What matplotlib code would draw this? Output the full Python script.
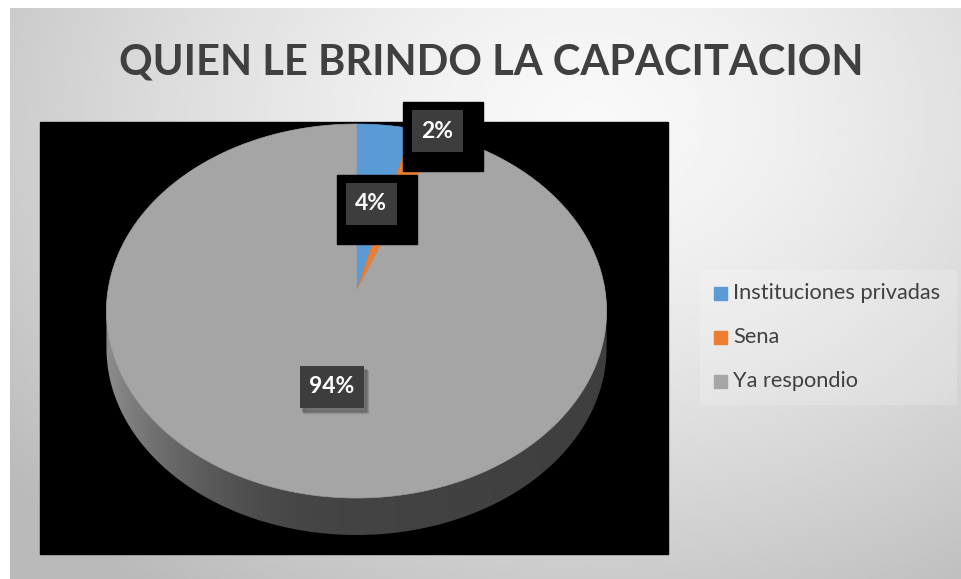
import numpy as np
import matplotlib
matplotlib.use("Agg")
from matplotlib import pyplot as plt
from matplotlib.patches import Polygon, Rectangle

# data
categories = ["Instituciones privadas", "Sena", "Ya respondio"]
values = [4, 2, 94]
colors = ["#5b9bd5", "#ed7d31", "#a5a5a5"]
labels = ["4%", "2%", "94%"]
title = "QUIEN LE BRINDO LA CAPACITACION"

W, H = 961, 579
fig = plt.figure(figsize=(W / 100, H / 100), dpi=100)
ax = fig.add_axes([0, 0, 1, 1])
ax.set_xlim(0, W)
ax.set_ylim(H, 0)
ax.axis("off")
fig.patch.set_facecolor("white")

# chart background, soft radial grey
gx, gy = np.meshgrid(np.linspace(10, W, 400), np.linspace(8, H, 250))
dist = np.sqrt(((gx - 590) / 620) ** 2 + ((gy - 120) / 480) ** 2)
bg = 0.975 - 0.19 * np.clip(dist, 0, 1.2) ** 1.4
ax.imshow(bg, extent=[10, W, H, 8], cmap="gray", vmin=0, vmax=1,
          interpolation="bilinear", zorder=0)

# black plot area
ax.add_patch(Rectangle((40, 122), 628, 432, color="black", zorder=1))

# perspective projection of the pie disc
cx, A, B, C, k = 356.5, 248.6, 153.7, 291.0, 0.107
depth = 37


def proj(theta, r=1.0, dy=0.0):
    t = np.radians(theta)
    u = r * np.sin(t)
    v = r * np.cos(t)
    d = 1 + k * v
    return cx + A * u / d, (C - B * v) / d + dy


# side wall of the visible front part
t_right = np.degrees(np.arccos(-k))
t_left = 360 - t_right
ts = np.linspace(t_right, t_left, 200)
xt, yt = proj(ts)
xb, yb = proj(ts[::-1], dy=depth)
side = Polygon(np.column_stack([np.r_[xt, xb], np.r_[yt, yb]]),
               closed=True, facecolor="none", edgecolor="none", zorder=2)
ax.add_patch(side)
sx = np.linspace(100, 612, 300)
tt = np.clip(-(sx - cx) / A, 0, 1)
shade = 0.265 + 0.28 * tt ** 2.2
shade = np.where(sx > cx, 0.265 - 0.02 * np.clip((sx - cx) / A, 0, 1), shade)
grad = np.tile(shade, (10, 1))
im = ax.imshow(grad, extent=[100, 612, 545, 300], cmap="gray", vmin=0, vmax=1,
               interpolation="bilinear", zorder=2)
im.set_clip_path(side)

# top face wedges
total = sum(values)
start = 0.0
mids = []
for val, col in zip(values, colors):
    span = 360.0 * val / total
    th = np.linspace(start, start + span, max(int(span * 2), 4))
    px, py = proj(th)
    ax0, ay0 = proj(0, r=0)
    pts = np.column_stack([np.r_[ax0, px], np.r_[ay0, py]])
    ax.add_patch(Polygon(pts, closed=True, facecolor=col, edgecolor=col,
                         linewidth=0.5, zorder=3))
    mids.append(start + span / 2)
    start += span

# data labels: dark box; the two small ones sit on a black block
lab_r = [0.5, 1.0, 0.5]
lab_dx = [0, 11, 0]
fig.canvas.draw()
renderer = fig.canvas.get_renderer()
for lab, m, r, dx in zip(labels, mids, lab_r, lab_dx):
    lx, ly = proj(m, r)
    lx += dx
    t = ax.text(lx, ly, lab, color="white", fontsize=16.5, fontweight="bold",
                family="Lato", ha="center", va="center", zorder=7)
    tw = t.get_window_extent(renderer).width
    bw, bh = tw + 19, 42
    x0, y0 = lx - bw / 2, ly - bh / 2
    ax.add_patch(Rectangle((x0, y0), bw, bh, facecolor="#3d3d3d",
                           edgecolor="none", zorder=6))
    if val_small := (values[labels.index(lab)] < 10):
        ax.add_patch(Rectangle((x0 - 9, y0 - 8), bw + 29, bh + 27,
                               color="black", zorder=5))
    else:
        for s, a in [(5, 0.12), (4, 0.18), (3, 0.25)]:
            ax.add_patch(Rectangle((x0 + s - 1, y0 + s), bw, bh,
                                   color="#3a3a3a", alpha=a, zorder=5))

# title
ax.text(491, 62, title, ha="center", va="center", fontsize=30,
        fontweight="bold", family="Lato", color="#404040", zorder=4)

# legend
ax.add_patch(Rectangle((700, 270), 257, 135, facecolor="white", alpha=0.18,
                       edgecolor="none", zorder=1))
for i, (cat, col) in enumerate(zip(categories, colors)):
    y = 293 + 44 * i
    ax.add_patch(Rectangle((714, y - 6.5), 13, 13, color=col, zorder=4))
    ax.text(733, y, cat, ha="left", va="center", fontsize=15.7, family="Lato",
            color="#404040", zorder=4)

fig.savefig("out.png", dpi=100)
